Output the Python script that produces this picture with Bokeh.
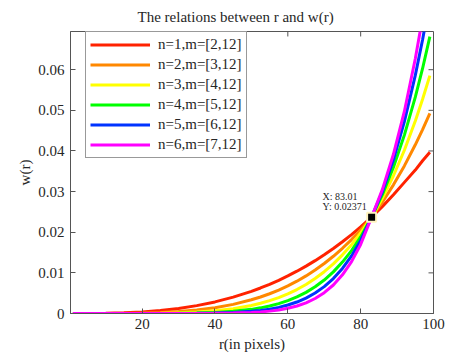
from bokeh.plotting import figure
from bokeh.models import Range1d, FixedTicker, Legend, LegendItem
from bokeh.embed import file_html
from bokeh.resources import INLINE
from bokeh.core.properties import value

# ---------------- data ----------------
title_text = "The relations between r and w(r)"
x_label = "r(in pixels)"
y_label = "w(r)"

x_ticks = [20, 40, 60, 80, 100]
x_tick_labels = ["20", "40", "60", "80", "100"]
y_ticks = [0, 0.01, 0.02, 0.03, 0.04, 0.05, 0.06]
y_tick_labels = ["0", "0.01", "0.02", "0.03", "0.04", "0.05", "0.06"]

series_names = ["n=1,m=[2,12]", "n=2,m=[3,12]", "n=3,m=[4,12]",
                "n=4,m=[5,12]", "n=5,m=[6,12]", "n=6,m=[7,12]"]
series_colors = ["#FF2200", "#FF8800", "#FFFF00", "#00FF00", "#0033FF", "#FF00FF"]

r = [1, 5, 10, 15, 20, 25, 30, 35, 40, 45,
     50, 52.5, 55, 57.5, 60, 62.5, 65, 67.5, 70, 72.5,
     75, 77.5, 80, 83, 86, 89, 92, 95, 97, 99]

w_n1 = [0.0, 0.000007, 0.000051, 0.000166, 0.00038, 0.00073, 0.00124, 0.00194, 0.00285, 0.00402,
        0.00545, 0.00628, 0.00719, 0.00817, 0.00925, 0.01041, 0.01166, 0.01301, 0.01446, 0.01601,
        0.01767, 0.01942, 0.0213, 0.0237, 0.02636, 0.02922, 0.03227, 0.0353, 0.0376, 0.0397]
w_n2 = [0.0, 0.0000005, 0.000007, 0.000033, 0.000099, 0.000233, 0.000471, 0.000853, 0.00143, 0.00225,
        0.00337, 0.00406, 0.00486, 0.00577, 0.0068, 0.00795, 0.00925, 0.01069, 0.0123, 0.01408,
        0.01605, 0.0182, 0.02057, 0.0237, 0.02746, 0.03166, 0.03633, 0.04152, 0.04526, 0.04926]
w_n3 = [0.0, 0.0, 0.0000007, 0.0000054, 0.000022, 0.000066, 0.000162, 0.000345, 0.000662, 0.00118,
        0.00198, 0.00251, 0.00316, 0.00392, 0.00483, 0.0059, 0.00715, 0.00861, 0.01028, 0.01221,
        0.01443, 0.01693, 0.0198, 0.0237, 0.02843, 0.0339, 0.04018, 0.04739, 0.05273, 0.05855]
w_n4 = [0.0, 0.0, 0.0, 0.0000006, 0.0000035, 0.000014, 0.000043, 0.000112, 0.000257, 0.000533,
        0.00102, 0.00139, 0.00185, 0.00243, 0.00317, 0.00408, 0.0052, 0.00658, 0.00824, 0.01024,
        0.01265, 0.01549, 0.01886, 0.0237, 0.02931, 0.036, 0.0439, 0.05324, 0.0603, 0.06813]
w_n5 = [0.0, 0.0, 0.0, 0.0, 0.0, 0.000003, 0.0000115, 0.0000365, 0.0000993, 0.00024,
        0.00053, 0.000764, 0.00108, 0.00151, 0.00208, 0.00282, 0.00379, 0.00503, 0.00661, 0.00859,
        0.01108, 0.01417, 0.01798, 0.0237, 0.03007, 0.03783, 0.04722, 0.0586, 0.06736, 0.07722]
w_n6 = [0.0, 0.0, 0.0, 0.0, 0.0, 0.0, 0.0000025, 0.00001, 0.000033, 0.000096,
        0.000248, 0.000384, 0.000585, 0.000871, 0.00128, 0.00184, 0.00263, 0.00369, 0.00512, 0.00701,
        0.00952, 0.01278, 0.017, 0.0237, 0.0306, 0.03918, 0.04972, 0.06269, 0.07282, 0.08434]

series_values = [w_n1, w_n2, w_n3, w_n4, w_n5, w_n6]

tip_x = [83.01]
tip_y = [0.02371]

# ---------------- figure ----------------
FONT = "Liberation Serif"
TXT = "#262626"
AX = "#555555"
X0, X1 = 0.33, 100
Y0, Y1 = 0.0, 0.0694
FRAME_W, FRAME_H = 363, 283
TICK_PX = 5

p = figure(width=450, height=360, output_backend="svg", toolbar_location=None,
           x_range=Range1d(X0, X1), y_range=Range1d(Y0, Y1),
           min_border_left=70, min_border_right=17, min_border_top=30, min_border_bottom=47,
           x_axis_label=x_label, y_axis_label=y_label, title=title_text)
p.grid.visible = False
p.outline_line_color = AX
p.background_fill_color = "white"
p.border_fill_color = "white"

p.title.text_font = FONT
p.title.text_font_size = "15px"
p.title.text_font_style = "normal"
p.title.text_color = TXT
p.title.align = "left"
p.title.offset = 67
p.title.standoff = 13


def style_axis(ax):
    ax.major_tick_in = TICK_PX
    ax.major_tick_out = 0
    ax.minor_tick_line_color = None
    ax.axis_line_color = AX
    ax.major_tick_line_color = AX
    ax.major_label_text_font = FONT
    ax.major_label_text_font_size = "15px"
    ax.major_label_text_color = TXT
    ax.axis_label_text_font = FONT
    ax.axis_label_text_font_size = "15px"
    ax.axis_label_text_font_style = "normal"
    ax.axis_label_text_color = TXT


xa = p.xaxis[0]
ya = p.yaxis[0]
style_axis(xa)
style_axis(ya)
xa.ticker = FixedTicker(ticks=x_ticks)
xa.major_label_overrides = dict(zip(x_ticks, x_tick_labels))
xa.major_label_standoff = 5
xa.axis_label_standoff = 4
ya.ticker = FixedTicker(ticks=y_ticks)
ya.major_label_overrides = dict(zip(y_ticks, y_tick_labels))
ya.major_label_standoff = 6
ya.axis_label_standoff = 2

# inward ticks on the top and right edges (box on)
dy = TICK_PX * (Y1 - Y0) / FRAME_H
dx = TICK_PX * (X1 - X0) / FRAME_W
p.segment(x0=x_ticks, y0=[Y1] * len(x_ticks), x1=x_ticks, y1=[Y1 - dy] * len(x_ticks),
          line_color=AX, line_width=1)
p.segment(x0=[X1] * len(y_ticks), y0=y_ticks, x1=[X1 - dx] * len(y_ticks), y1=y_ticks,
          line_color=AX, line_width=1)

# curves
items = []
for name, col, vals in zip(series_names, series_colors, series_values):
    rend = p.line(r, vals, line_color=col, line_width=3)
    items.append(LegendItem(label=name, renderers=[rend]))

legend = Legend(items=items, location=(15, 155), margin=0, padding=4, spacing=3,
                glyph_width=60, glyph_height=17, label_height=17, label_standoff=8,
                label_text_font=FONT, label_text_font_size="15px", label_text_color=TXT,
                border_line_color="#333333", border_line_width=1.5,
                background_fill_color="white", background_fill_alpha=1.0)
p.add_layout(legend)

# data tip
p.scatter(tip_x, tip_y, marker="square", size=9, fill_color="black",
          line_color="#FFF3C0", line_width=2)
p.text(tip_x, tip_y, text=[f"X: {tip_x[0]:.2f}"], x_offset=-49, y_offset=-21,
       text_font=value(FONT), text_font_size="10px", text_color=TXT, text_baseline="alphabetic")
p.text(tip_x, tip_y, text=[f"Y: {tip_y[0]:.5f}"], x_offset=-49, y_offset=-11,
       text_font=value(FONT), text_font_size="10px", text_color=TXT, text_baseline="alphabetic")

open("out.html", "w").write(file_html(p, INLINE))
